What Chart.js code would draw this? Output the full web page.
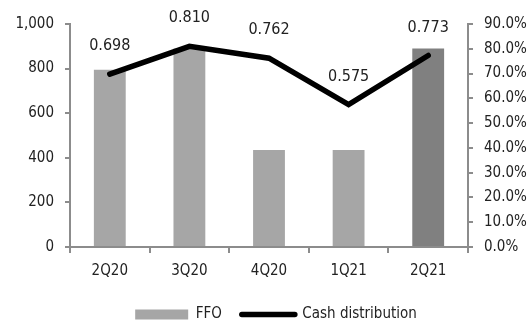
<!DOCTYPE html>
<html>
<head>
<meta charset="utf-8">
<script src="https://cdn.jsdelivr.net/npm/chart.js@4/dist/chart.umd.min.js"></script>
<style>
html,body{margin:0;padding:0;background:#fff;}
#wrap{width:530px;height:320px;position:relative;}
</style>
</head>
<body>
<div id="wrap"><canvas id="c" width="530" height="320"></canvas></div>
<script>
const categories = ['2Q20', '3Q20', '4Q20', '1Q21', '2Q21'];
const ffoValues = [795, 890, 435, 435, 890];
const cashDistribution = [0.698, 0.810, 0.762, 0.575, 0.773];
const barColors = ['#a6a6a6', '#a6a6a6', '#a6a6a6', '#a6a6a6', '#808080'];
const leftTicks = [0, 200, 400, 600, 800, 1000];
const rightTicks = [0, 0.1, 0.2, 0.3, 0.4, 0.5, 0.6, 0.7, 0.8, 0.9];

const FONT = "'Liberation Sans Narrow', 'Arial Narrow', 'DejaVu Sans Condensed', sans-serif";
const TXT = '#222';
const AX = '#8c8c8c';

const labelPlugin = {
  id: 'pointLabels',
  afterLayout(chart) {
    if (chart.legend) { chart.legend.left += 11; chart.legend.right += 11; }
  },
  afterDatasetsDraw(chart) {
    const meta = chart.getDatasetMeta(1);
    const ctx = chart.ctx;
    ctx.save();
    ctx.font = '16px ' + FONT;
    ctx.fillStyle = TXT;
    ctx.textAlign = 'center';
    ctx.textBaseline = 'middle';
    meta.data.forEach((pt, i) => {
      ctx.fillText(cashDistribution[i].toFixed(3), pt.x, pt.y - 28);
    });
    ctx.restore();
  }
};

new Chart(document.getElementById('c'), {
  data: {
    labels: categories,
    datasets: [
      {
        type: 'bar',
        label: 'FFO',
        data: ffoValues,
        backgroundColor: barColors,
        borderWidth: 0,
        barPercentage: 0.4,
        categoryPercentage: 1,
        yAxisID: 'y',
        order: 1
      },
      {
        type: 'line',
        label: 'Cash distribution',
        data: cashDistribution,
        borderColor: '#000',
        backgroundColor: '#000',
        borderWidth: 5.5,
        borderCapStyle: 'round',
        borderJoinStyle: 'miter',
        pointRadius: 0,
        tension: 0,
        yAxisID: 'y1',
        order: 0
      }
    ]
  },
  options: {
    responsive: false,
    animation: false,
    layout: { padding: { top: 24, bottom: -12, left: 0, right: 0 } },
    plugins: {
      tooltip: { enabled: false },
      legend: {
        position: 'bottom',
        labels: {
          font: { family: FONT, size: 15 },
          color: TXT,
          usePointStyle: true,
          pointStyleWidth: 53,
          boxHeight: 10,
          padding: 20,
          generateLabels(chart) {
            return [
              { text: 'FFO', fillStyle: '#a6a6a6', strokeStyle: '#a6a6a6', lineWidth: 0, pointStyle: 'rect', datasetIndex: 0, fontColor: TXT },
              { text: 'Cash distribution', fillStyle: '#000', strokeStyle: '#000', lineWidth: 5.5, lineCap: 'round', pointStyle: 'line', datasetIndex: 1, fontColor: TXT }
            ];
          }
        }
      }
    },
    scales: {
      x: {
        grid: { display: true, drawOnChartArea: false, offset: true, tickLength: 6, color: AX, lineWidth: 2 },
        border: { display: true, color: AX, width: 2 },
        ticks: { font: { family: FONT, size: 15 }, color: TXT, padding: 9 },
        afterFit(s) { s.height = 40; }
      },
      y: {
        position: 'left',
        min: 0, max: 1000,
        afterBuildTicks(s) { s.ticks = leftTicks.map(v => ({ value: v })); },
        grid: { display: true, drawOnChartArea: false, tickLength: 5, color: AX, lineWidth: 2 },
        border: { display: true, color: AX, width: 2 },
        ticks: { font: { family: FONT, size: 15 }, color: TXT, padding: 11,
          callback: v => v.toLocaleString('en-US') },
        afterFit(s) { s.width = 70; }
      },
      y1: {
        position: 'right',
        min: 0, max: 0.9,
        afterBuildTicks(s) { s.ticks = rightTicks.map(v => ({ value: v })); },
        grid: { display: true, drawOnChartArea: false, tickLength: 5, color: AX, lineWidth: 2 },
        border: { display: true, color: AX, width: 2 },
        ticks: { font: { family: FONT, size: 15 }, color: TXT, padding: 11,
          callback: v => (v * 100).toFixed(1) + '%' },
        afterFit(s) { s.width = 62; }
      }
    }
  },
  plugins: [labelPlugin]
});
</script>
</body>
</html>
